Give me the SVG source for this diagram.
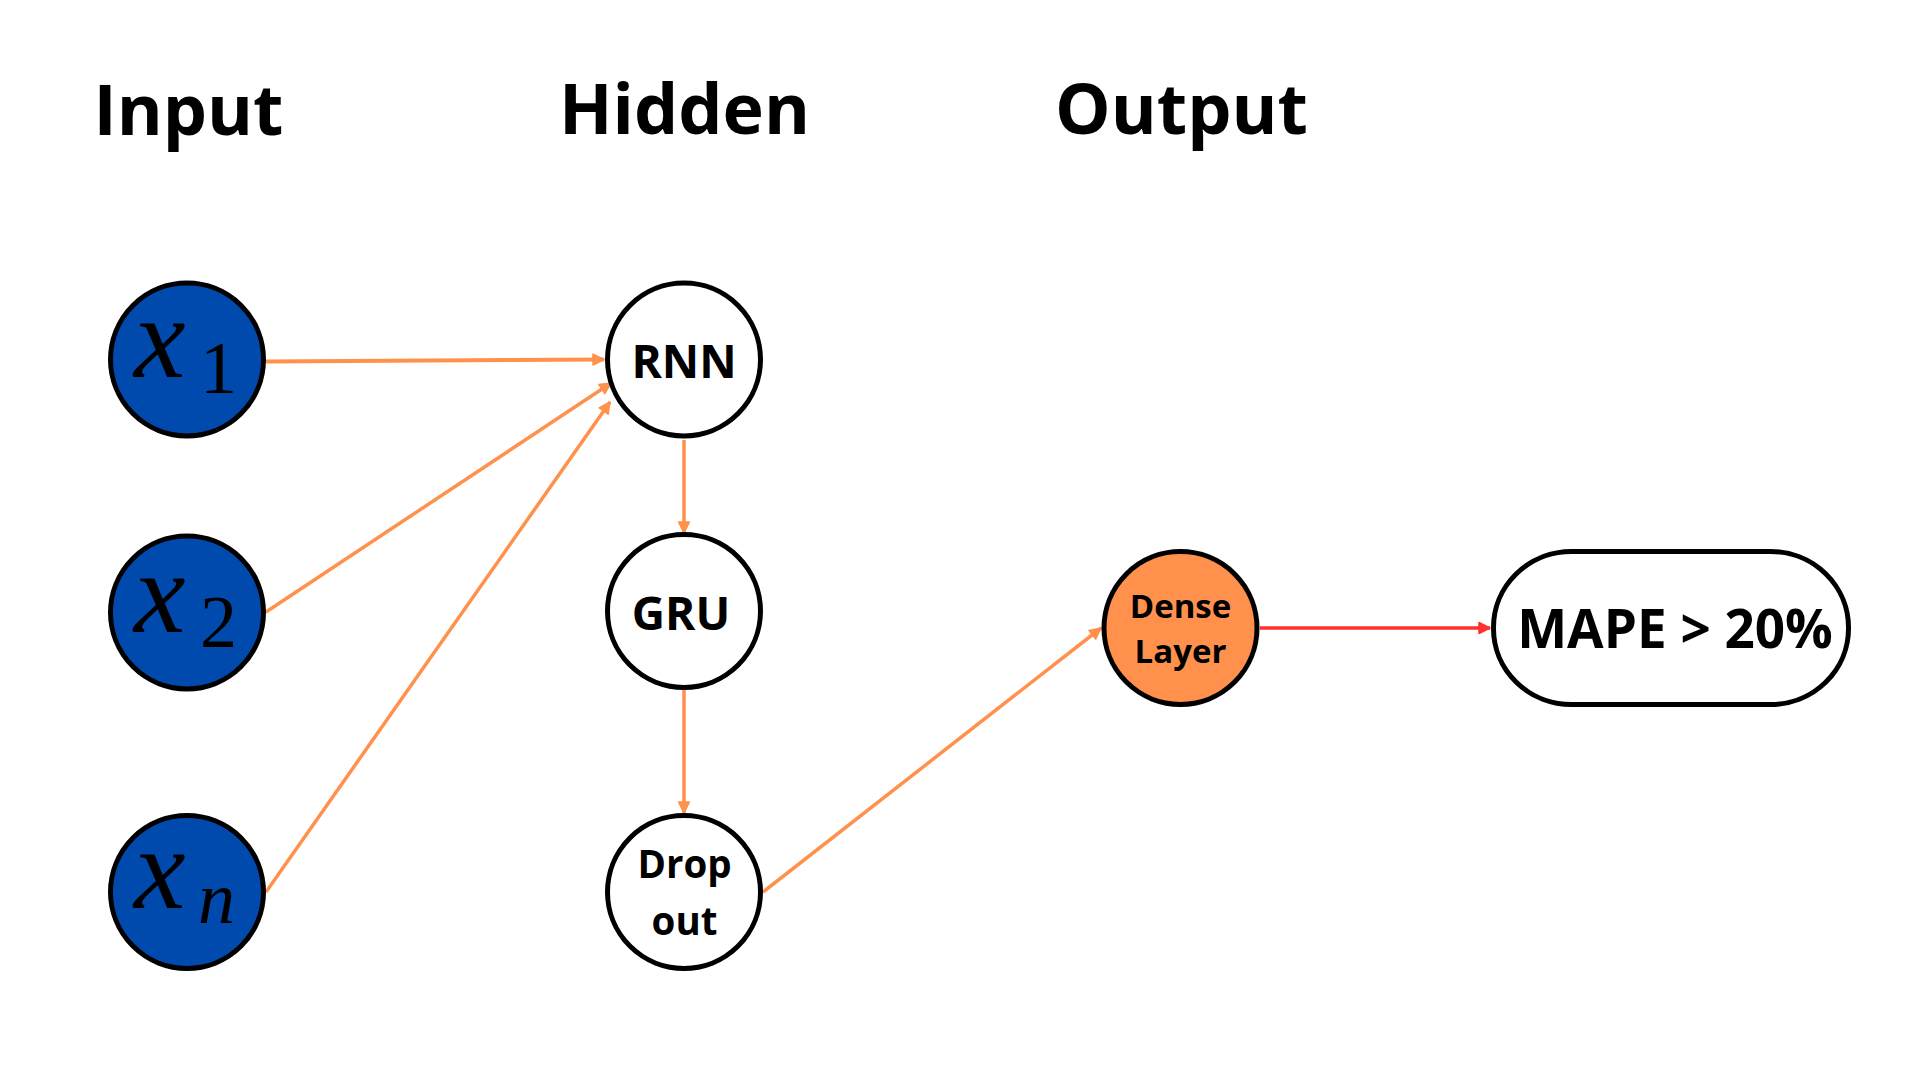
<svg xmlns="http://www.w3.org/2000/svg" width="1920" height="1080" viewBox="0 0 1920 1080">
<style>
.title{font-family:"Open Sans","Noto Sans",sans-serif;font-weight:700;font-size:70px;fill:#000;text-anchor:middle}
.lbl{font-family:"Open Sans","Noto Sans",sans-serif;font-weight:700;fill:#000;text-anchor:middle}
.node{stroke:#000;stroke-width:5}
.in{fill:#004AAD}
.hid{fill:#FFFFFF}
.math{font-family:"Liberation Serif","DejaVu Serif",serif;fill:#000}
.mx{font-style:italic;font-size:116px}
.sub{font-size:74px}
.conn{fill:none;stroke:#FF914D;stroke-width:3.5}
.red{fill:none;stroke:#FF3131;stroke-width:3.5}
</style>
<defs>
<marker id="ao" markerUnits="userSpaceOnUse" markerWidth="14" markerHeight="14" refX="12" refY="7" orient="auto">
<path d="M1,1.5 L12,7 L1,12.5 z" fill="#FF914D" stroke="#FF914D" stroke-width="1.5" stroke-linejoin="round"/>
</marker>
<marker id="ar" markerUnits="userSpaceOnUse" markerWidth="14" markerHeight="14" refX="12" refY="7" orient="auto">
<path d="M1,1.5 L12,7 L1,12.5 z" fill="#FF3131" stroke="#FF3131" stroke-width="1.5" stroke-linejoin="round"/>
</marker>
</defs>
<rect width="1920" height="1080" fill="#FFFFFF"/>
<g id="titles">
<text class="title" x="188.5" y="135">Input</text>
<text class="title" x="684.5" y="134">Hidden</text>
<text class="title" x="1181.5" y="134">Output</text>
</g>
<g id="connectors">
<line class="conn" style="stroke-width:4" x1="266" y1="361.5" x2="604" y2="359.5" marker-end="url(#ao)"/>
<line class="conn" x1="266" y1="612" x2="611" y2="383" marker-end="url(#ao)"/>
<line class="conn" x1="266" y1="892" x2="610" y2="402" marker-end="url(#ao)"/>
<line class="conn" x1="684" y1="440" x2="684" y2="533" marker-end="url(#ao)"/>
<line class="conn" x1="684" y1="689" x2="684" y2="813" marker-end="url(#ao)"/>
<line class="conn" x1="763" y1="892" x2="1101" y2="628" marker-end="url(#ao)"/>
<line class="red" x1="1260" y1="628" x2="1490" y2="628" marker-end="url(#ar)"/>
</g>
<g id="node-x1">
<circle class="node in" cx="187" cy="359.5" r="76.5"/>
<text class="math" y="377"><tspan class="mx" x="134">x</tspan><tspan class="sub" x="200" y="393">1</tspan></text>
</g>
<g id="node-x2">
<circle class="node in" cx="187" cy="612.5" r="76.5"/>
<text class="math" y="632"><tspan class="mx" x="134">x</tspan><tspan class="sub" x="200" y="647">2</tspan></text>
</g>
<g id="node-xn">
<circle class="node in" cx="187" cy="892" r="76.5"/>
<text class="math" y="908"><tspan class="mx" x="134">x</tspan><tspan class="sub" style="font-style:italic" x="198" y="923">n</tspan></text>
</g>
<g id="node-rnn">
<circle class="node hid" cx="684" cy="359.5" r="76.5"/>
<text class="lbl" x="684" y="378" font-size="46">RNN</text>
</g>
<g id="node-gru">
<circle class="node hid" cx="681" cy="611" r="76.5" transform="translate(3 0)"/>
<text class="lbl" x="681" y="630" font-size="46">GRU</text>
</g>
<g id="node-dropout">
<circle class="node hid" cx="684" cy="892" r="76.5"/>
<text class="lbl" x="684.5" y="878" font-size="38.5">Drop</text>
<text class="lbl" x="684.5" y="935" font-size="38.5">out</text>
</g>
<g id="node-dense">
<circle class="node" fill="#FF914D" cx="1180.5" cy="628" r="76.5"/>
<text class="lbl" x="1180.5" y="618" font-size="33">Dense</text>
<text class="lbl" x="1180.5" y="663" font-size="33">Layer</text>
</g>
<g id="node-mape">
<rect class="node hid" x="1493.5" y="551.5" width="355" height="153" rx="78" ry="76"/>
<text class="lbl" x="1675" y="648" font-size="53">MAPE &gt; 20%</text>
</g>
</svg>
